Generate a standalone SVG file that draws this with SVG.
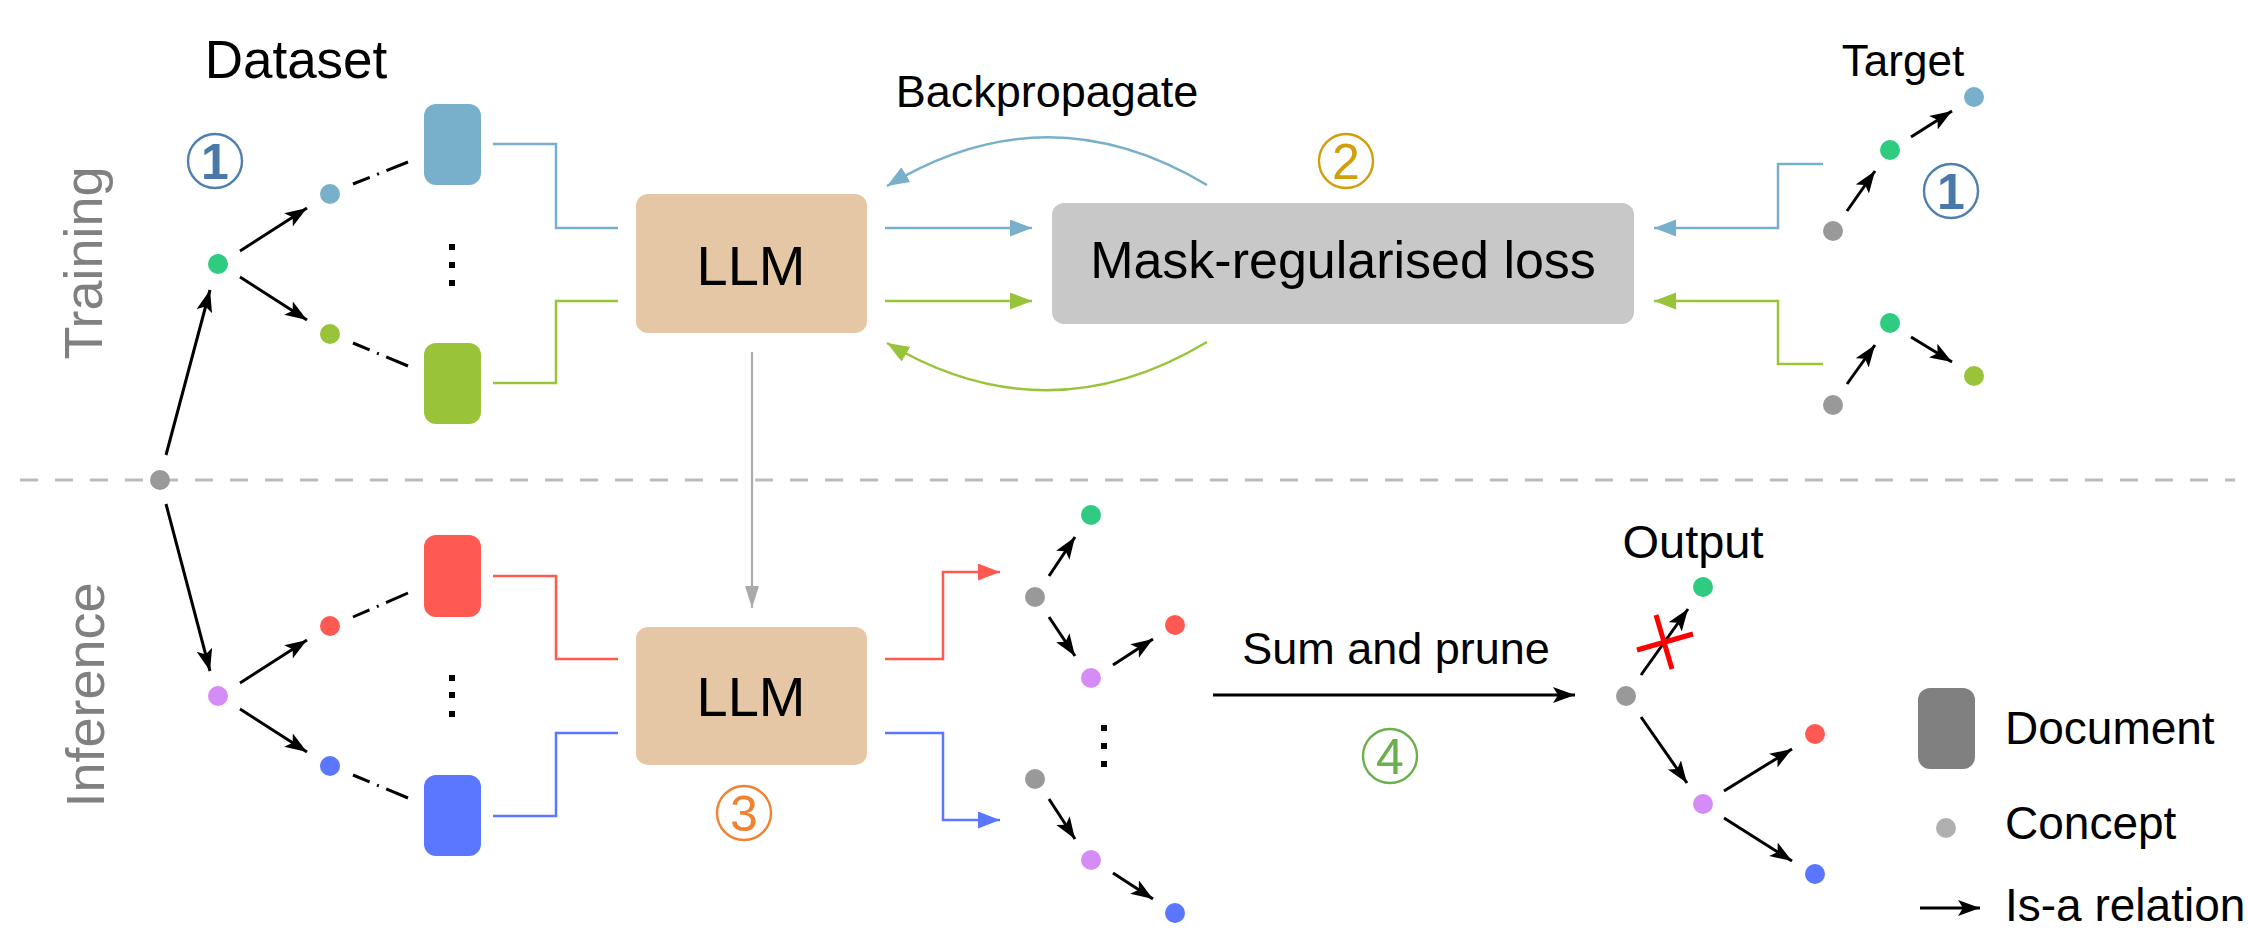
<svg xmlns="http://www.w3.org/2000/svg" width="2248" height="946" viewBox="0 0 2248 946">
<style>
text{font-family:"Liberation Sans",Arial,sans-serif;fill:#000}
.lbl{font-size:46px}
.side{font-size:54px;fill:#808080;text-anchor:middle}
.num{font-size:50px;text-anchor:middle}
.ring{fill:none;stroke-width:2.4}
.blk{stroke:#000;stroke-width:3;fill:none;marker-end:url(#ahK)}
.dd{stroke:#000;stroke-width:3;fill:none;stroke-dasharray:18 8 2 8 40}
.cb{stroke:#78b0cb;stroke-width:2.5;fill:none}
.cg{stroke:#99c43a;stroke-width:2.5;fill:none}
.cr{stroke:#ff5a52;stroke-width:2.5;fill:none}
.ci{stroke:#5b76ff;stroke-width:2.5;fill:none}
.doc{stroke:none}
.vd{fill:#000}
</style>
<defs>
<marker id="ahK" markerUnits="userSpaceOnUse" markerWidth="24" markerHeight="18" refX="22" refY="8" orient="auto"><path d="M0,0 L22,8 L0,16 L5,8 z" fill="#000"/></marker>
<marker id="ahB" markerUnits="userSpaceOnUse" markerWidth="24" markerHeight="18" refX="22" refY="8.5" orient="auto"><path d="M0,0 L22,8.5 L0,17 z" fill="#78b0cb"/></marker>
<marker id="ahG" markerUnits="userSpaceOnUse" markerWidth="24" markerHeight="18" refX="22" refY="8.5" orient="auto"><path d="M0,0 L22,8.5 L0,17 z" fill="#99c43a"/></marker>
<marker id="ahR" markerUnits="userSpaceOnUse" markerWidth="24" markerHeight="18" refX="22" refY="8.5" orient="auto"><path d="M0,0 L22,8.5 L0,17 z" fill="#ff5a52"/></marker>
<marker id="ahI" markerUnits="userSpaceOnUse" markerWidth="24" markerHeight="18" refX="22" refY="8.5" orient="auto"><path d="M0,0 L22,8.5 L0,17 z" fill="#5b76ff"/></marker>
<marker id="ahS" markerUnits="userSpaceOnUse" markerWidth="24" markerHeight="18" refX="22" refY="7" orient="auto"><path d="M0,0 L22,7 L0,14 z" fill="#aaaaaa"/></marker>
</defs>

<!-- separator -->
<line id="separator" x1="20" y1="480" x2="2235" y2="480" stroke="#bbbbbb" stroke-width="3" stroke-dasharray="18 17"/>

<!-- side labels -->
<g id="label-training"><text class="side" transform="translate(102,263) rotate(-90)">Training</text></g>
<g id="label-inference"><text class="side" transform="translate(104,695) rotate(-90)">Inference</text></g>
<g id="label-dataset"><text x="296" y="78" font-size="53" text-anchor="middle">Dataset</text></g>
<g id="label-backprop"><text x="1047" y="107" font-size="45" text-anchor="middle">Backpropagate</text></g>
<g id="label-target"><text x="1903" y="76" font-size="44" text-anchor="middle">Target</text></g>
<g id="label-output"><text x="1693" y="558" font-size="47" text-anchor="middle">Output</text></g>
<g id="label-sum"><text x="1396" y="664" font-size="45" text-anchor="middle">Sum and prune</text></g>

<!-- step markers -->
<g id="step1a"><circle class="ring" cx="215" cy="161" r="27" stroke="#4f7fb0"/><text class="num" x="215" y="179" fill="#4a78a8" font-weight="bold" style="fill:#4a78a8">1</text></g>
<g id="step1b"><circle class="ring" cx="1951" cy="191" r="27" stroke="#4f7fb0"/><text class="num" x="1951" y="209" font-weight="bold" style="fill:#4a78a8">1</text></g>
<g id="step2"><circle class="ring" cx="1346" cy="161" r="27" stroke="#d19e0c"/><text class="num" x="1346" y="179" style="fill:#d19e0c">2</text></g>
<g id="step3"><circle class="ring" cx="744" cy="813" r="27" stroke="#f08232"/><text class="num" x="744" y="831" style="fill:#f08232">3</text></g>
<g id="step4"><circle class="ring" cx="1390" cy="756" r="27" stroke="#6ab04c"/><text class="num" x="1390" y="774" style="fill:#6ab04c">4</text></g>

<!-- connectors -->
<g id="connectors">
<line class="blk" x1="166" y1="455" x2="210" y2="290"/>
<line class="blk" x1="240" y1="251" x2="307" y2="208"/>
<line class="blk" x1="240" y1="277" x2="307" y2="320"/>
<line class="dd" x1="353" y1="184" x2="408" y2="162"/>
<line class="dd" x1="353" y1="343" x2="408" y2="366"/>
<polyline class="cb" points="493,144 556,144 556,228 618,228"/>
<polyline class="cg" points="493,383 556,383 556,301 618,301"/>
<line class="cb" x1="885" y1="228" x2="1032" y2="228" marker-end="url(#ahB)"/>
<line class="cg" x1="885" y1="301" x2="1032" y2="301" marker-end="url(#ahG)"/>
<path class="cb" d="M1207,185 Q1047,89 887,186" marker-end="url(#ahB)"/>
<path class="cg" d="M1207,342 Q1047,438 887,343" marker-end="url(#ahG)"/>
<polyline class="cb" points="1823,164 1778,164 1778,228 1654,228" marker-end="url(#ahB)"/>
<polyline class="cg" points="1823,364 1778,364 1778,301 1654,301" marker-end="url(#ahG)"/>
<line class="blk" x1="1847" y1="211" x2="1875" y2="171"/>
<line class="blk" x1="1911" y1="137" x2="1952" y2="111"/>
<line class="blk" x1="1847" y1="384" x2="1875" y2="345"/>
<line class="blk" x1="1911" y1="337" x2="1952" y2="362"/>
<line x1="752" y1="352" x2="752" y2="608" stroke="#aaaaaa" stroke-width="2.2" marker-end="url(#ahS)"/>
<line class="blk" x1="166" y1="504" x2="210" y2="671"/>
<line class="blk" x1="240" y1="683" x2="307" y2="640"/>
<line class="blk" x1="240" y1="709" x2="307" y2="752"/>
<line class="dd" x1="353" y1="617" x2="408" y2="593"/>
<line class="dd" x1="353" y1="775" x2="408" y2="798"/>
<polyline class="cr" points="493,576 556,576 556,659 618,659"/>
<polyline class="ci" points="493,816 556,816 556,733 618,733"/>
<polyline class="cr" points="885,659 943,659 943,572 1000,572" marker-end="url(#ahR)"/>
<polyline class="ci" points="885,733 943,733 943,820 1000,820" marker-end="url(#ahI)"/>
<line class="blk" x1="1049" y1="576" x2="1075" y2="537"/>
<line class="blk" x1="1049" y1="617" x2="1075" y2="656"/>
<line class="blk" x1="1113" y1="665" x2="1153" y2="639"/>
<line class="blk" x1="1049" y1="799" x2="1075" y2="839"/>
<line class="blk" x1="1113" y1="873" x2="1153" y2="899"/>
<line class="blk" x1="1213" y1="695" x2="1575" y2="695"/>
<line class="blk" x1="1641" y1="675" x2="1688" y2="609"/>
<line class="blk" x1="1641" y1="717" x2="1687" y2="783"/>
<line class="blk" x1="1724" y1="791" x2="1792" y2="749"/>
<line class="blk" x1="1724" y1="818" x2="1792" y2="861"/>
<line x1="1637" y1="650" x2="1693" y2="634" stroke="#ff0000" stroke-width="5"/>
<line x1="1656" y1="615" x2="1672" y2="669" stroke="#ff0000" stroke-width="5"/>
<line class="blk" x1="1920" y1="908" x2="1980" y2="908"/>
</g>

<!-- training nodes -->
<g id="root-concept"><circle cx="160" cy="480" r="10" fill="#999999"/></g>
<g id="t-concept-green"><circle cx="218" cy="264" r="10" fill="#2ecb80"/></g>
<g id="t-concept-blue"><circle cx="330" cy="194" r="10" fill="#78b0cb"/></g>
<g id="t-concept-olive"><circle cx="330" cy="334" r="10" fill="#99c43a"/></g>
<g id="t-doc-blue"><rect x="424" y="104" width="57" height="81" rx="12" fill="#78b0cb"/></g>
<g id="t-doc-green"><rect x="424" y="343" width="57" height="81" rx="12" fill="#99c43a"/></g>
<g id="t-vdots"><rect class="vd" x="449" y="244" width="6" height="6"/><rect class="vd" x="449" y="262" width="6" height="6"/><rect class="vd" x="449" y="280" width="6" height="6"/></g>
<g id="llm-train"><rect x="636" y="194" width="231" height="139" rx="12" fill="#e5c7a5"/><text x="751" y="285" font-size="56" text-anchor="middle">LLM</text></g>
<g id="loss"><rect x="1052" y="203" width="582" height="121" rx="12" fill="#c8c8c8"/><text x="1343" y="278" font-size="52" text-anchor="middle">Mask-regularised loss</text></g>
<g id="target1"><circle cx="1833" cy="231" r="10" fill="#999999"/><circle cx="1890" cy="150" r="10" fill="#2ecb80"/><circle cx="1974" cy="97" r="10" fill="#78b0cb"/></g>
<g id="target2"><circle cx="1833" cy="405" r="10" fill="#999999"/><circle cx="1890" cy="323" r="10" fill="#2ecb80"/><circle cx="1974" cy="376" r="10" fill="#99c43a"/></g>

<!-- inference nodes -->
<g id="i-concept-purple"><circle cx="218" cy="696" r="10" fill="#d68cf7"/></g>
<g id="i-concept-red"><circle cx="330" cy="626" r="10" fill="#ff5a52"/></g>
<g id="i-concept-blue"><circle cx="330" cy="766" r="10" fill="#5b76ff"/></g>
<g id="i-doc-red"><rect x="424" y="535" width="57" height="82" rx="12" fill="#ff5a52"/></g>
<g id="i-doc-blue"><rect x="424" y="775" width="57" height="81" rx="12" fill="#5b76ff"/></g>
<g id="i-vdots"><rect class="vd" x="449" y="675" width="6" height="6"/><rect class="vd" x="449" y="692" width="6" height="6"/><rect class="vd" x="449" y="711" width="6" height="6"/></g>
<g id="llm-infer"><rect x="636" y="627" width="231" height="138" rx="12" fill="#e5c7a5"/><text x="751" y="716" font-size="56" text-anchor="middle">LLM</text></g>
<g id="pred1"><circle cx="1035" cy="597" r="10" fill="#999999"/><circle cx="1091" cy="515" r="10" fill="#2ecb80"/><circle cx="1091" cy="678" r="10" fill="#d68cf7"/><circle cx="1175" cy="625" r="10" fill="#ff5a52"/></g>
<g id="pred-vdots"><rect class="vd" x="1101" y="725" width="6" height="6"/><rect class="vd" x="1101" y="743" width="6" height="6"/><rect class="vd" x="1101" y="761" width="6" height="6"/></g>
<g id="pred2"><circle cx="1035" cy="779" r="10" fill="#999999"/><circle cx="1091" cy="860" r="10" fill="#d68cf7"/><circle cx="1175" cy="913" r="10" fill="#5b76ff"/></g>
<g id="output-tree"><circle cx="1626" cy="696" r="10" fill="#999999"/><circle cx="1703" cy="587" r="10" fill="#2ecb80"/><circle cx="1703" cy="804" r="10" fill="#d68cf7"/><circle cx="1815" cy="734" r="10" fill="#ff5a52"/><circle cx="1815" cy="874" r="10" fill="#5b76ff"/></g>

<!-- legend -->
<g id="legend-document"><rect x="1918" y="688" width="57" height="81" rx="12" fill="#808080"/><text class="lbl" x="2005" y="744">Document</text></g>
<g id="legend-concept"><circle cx="1946" cy="828" r="10" fill="#b0b0b0"/><text class="lbl" x="2005" y="839">Concept</text></g>
<g id="legend-relation"><text class="lbl" x="2005" y="921">Is-a relation</text></g>
</svg>
